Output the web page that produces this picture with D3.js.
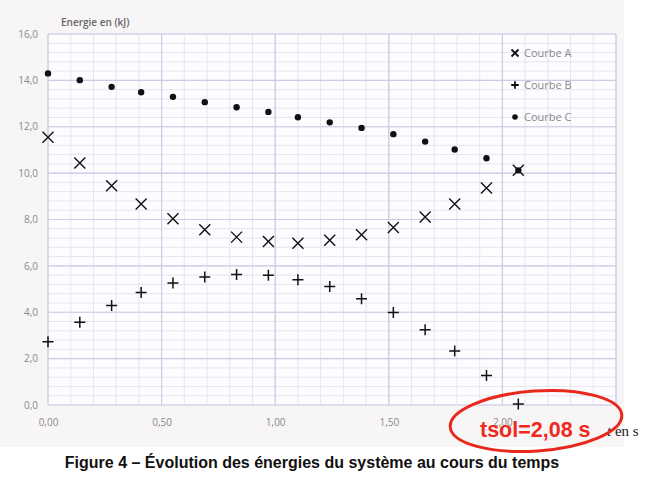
<!DOCTYPE html>
<html>
<head>
<meta charset="utf-8">
<script src="https://cdn.jsdelivr.net/npm/d3@7"></script>
<style>
  body { margin: 0; background: #fff; }
  svg { display: block; }
</style>
</head>
<body>
<svg id="chart" width="664" height="477"></svg>
<script>
// values
var temps   = [0.00, 0.14, 0.28, 0.41, 0.55, 0.69, 0.83, 0.97, 1.10, 1.24, 1.38, 1.52, 1.66, 1.79, 1.93, 2.07];
var courbeA = [11.55, 10.44, 9.46, 8.67, 8.03, 7.56, 7.24, 7.05, 6.98, 7.10, 7.34, 7.66, 8.11, 8.67, 9.36, 10.12];
var courbeB = [2.73, 3.57, 4.29, 4.85, 5.26, 5.52, 5.63, 5.60, 5.40, 5.11, 4.58, 3.99, 3.24, 2.33, 1.27, 0.04];
var courbeC = [14.30, 14.01, 13.72, 13.49, 13.29, 13.06, 12.84, 12.64, 12.41, 12.19, 11.95, 11.68, 11.36, 11.02, 10.64, 10.12];
var xTicks  = [0, 0.5, 1, 1.5, 2];
var yTicks  = [0, 2, 4, 6, 8, 10, 12, 14, 16];
var legendNames = ["Courbe A", "Courbe B", "Courbe C"];

var fr = d3.formatLocale({decimal: ",", thousands: " ", grouping: [3], currency: ["", " €"]});

var svg = d3.select("#chart");
// note: "top" is taken by window.top, so plot edges get their own names
var plotL = 48, plotR = 616, plotT = 34, plotB = 405;

var x = d3.scaleLinear().domain([0, 2.5]).range([plotL, plotR]);
var y = d3.scaleLinear().domain([0, 16]).range([plotB, plotT]);

// paper tint of the scan
svg.append("rect").attr("x", 0).attr("y", 0).attr("width", 624).attr("height", 447)
  .attr("fill", "#f8f5f7");
svg.append("rect").attr("x", plotL).attr("y", plotT).attr("width", plotR - plotL).attr("height", plotB - plotT)
  .attr("fill", "#fdfcfe");

// minor grid
var g = svg.append("g");
g.selectAll(".vmin").data(d3.range(0, 2.51, 0.1)).enter().append("line")
  .attr("x1", d => x(d)).attr("x2", d => x(d)).attr("y1", plotT).attr("y2", plotB)
  .attr("stroke", "#e8e4f1").attr("stroke-width", 1);
g.selectAll(".hmin").data(d3.range(0, 16.01, 0.4)).enter().append("line")
  .attr("y1", d => y(d)).attr("y2", d => y(d)).attr("x1", plotL).attr("x2", plotR)
  .attr("stroke", "#e8e4f1").attr("stroke-width", 1);

// major grid
g.selectAll(".vmaj").data(xTicks.concat([2.5])).enter().append("line")
  .attr("x1", d => x(d)).attr("x2", d => x(d)).attr("y1", plotT).attr("y2", plotB)
  .attr("stroke", "#cfc9e4").attr("stroke-width", 1.2);
g.selectAll(".hmaj").data(yTicks).enter().append("line")
  .attr("y1", d => y(d)).attr("y2", d => y(d)).attr("x1", plotL).attr("x2", plotR)
  .attr("stroke", "#cfc9e4").attr("stroke-width", 1.2);

// axes labels
var yAxis = d3.axisLeft(y).tickValues(yTicks).tickSize(0).tickPadding(10).tickFormat(fr.format(".1f"));
svg.append("g").attr("transform", "translate(" + plotL + ",0)").call(yAxis)
  .call(a => a.select(".domain").remove())
  .selectAll("text").attr("fill", "#8a8a8a").style("font-family", "Open Sans").style("font-size", "10px");

var xAxis = d3.axisBottom(x).tickValues(xTicks).tickSize(0).tickPadding(14).tickFormat(fr.format(".2f"));
svg.append("g").attr("transform", "translate(0," + plotB + ")").call(xAxis)
  .call(a => a.select(".domain").remove())
  .selectAll("text").attr("fill", "#8a8a8a").style("font-family", "Open Sans").style("font-size", "10px");

svg.append("text").attr("x", 61).attr("y", 26).text("Energie en (kJ)")
  .attr("fill", "#666").style("font-family", "Open Sans").style("font-size", "10px").style("font-weight", 600);

// markers
function cross(sel, s) {
  return sel.append("path").attr("d", "M" + (-s) + "," + (-s) + "L" + s + "," + s + "M" + (-s) + "," + s + "L" + s + "," + (-s))
    .attr("stroke", "#111").attr("stroke-width", 1.4).attr("fill", "none");
}
function plus(sel, s) {
  return sel.append("path").attr("d", "M" + (-s) + ",0L" + s + ",0M0," + (-s) + "L0," + s)
    .attr("stroke", "#111").attr("stroke-width", 1.5).attr("fill", "none");
}

svg.append("g").selectAll("circle").data(courbeC).enter().append("circle")
  .attr("cx", (d, i) => x(temps[i])).attr("cy", d => y(d)).attr("r", 3.2).attr("fill", "#111");

svg.append("g").selectAll("g").data(courbeA).enter().append("g")
  .attr("transform", (d, i) => "translate(" + x(temps[i]) + "," + y(d) + ")")
  .each(function() { cross(d3.select(this), 5.5); });

svg.append("g").selectAll("g").data(courbeB).enter().append("g")
  .attr("transform", (d, i) => "translate(" + x(temps[i]) + "," + y(d) + ")")
  .each(function() { plus(d3.select(this), 5.5); });

// legend
var leg = svg.append("g").attr("transform", "translate(515,53)");
legendNames.forEach(function(name, i) {
  var row = leg.append("g").attr("transform", "translate(0," + (i * 32) + ")");
  if (i == 0) cross(row, 3.5).attr("stroke-width", 1.8);
  if (i == 1) plus(row, 3.8).attr("stroke-width", 1.8);
  if (i == 2) row.append("circle").attr("r", 2.8).attr("fill", "#111");
  row.append("text").attr("x", 9).attr("y", 4).text(name)
    .attr("fill", "#8a8a8a").style("font-family", "Open Sans").style("font-size", "11px");
});

// time axis unit
var unit = svg.append("text").attr("x", 607).attr("y", 436)
  .style("font-family", "Liberation Serif").style("font-size", "15px").attr("fill", "#222");
unit.append("tspan").text("t").style("font-style", "italic");
unit.append("tspan").text(" en s");

// annotation
svg.append("ellipse").attr("cx", 536).attr("cy", 421).attr("rx", 86).attr("ry", 30)
  .attr("transform", "rotate(-4,536,421)")
  .attr("fill", "none").attr("stroke", "#e8281c").attr("stroke-width", 3);
svg.append("text").attr("x", 480).attr("y", 437).text("tsol=" + fr.format(".2f")(2.08) + " s")
  .attr("fill", "#ee2a1c").style("font-family", "Liberation Sans").style("font-weight", "bold").style("font-size", "21.5px");

// caption
svg.append("text").attr("x", 312).attr("y", 468).attr("text-anchor", "middle")
  .text("Figure 4 – Évolution des énergies du système au cours du temps")
  .attr("fill", "#111").style("font-family", "Liberation Sans").style("font-weight", "bold").style("font-size", "16px");
</script>
</body>
</html>
